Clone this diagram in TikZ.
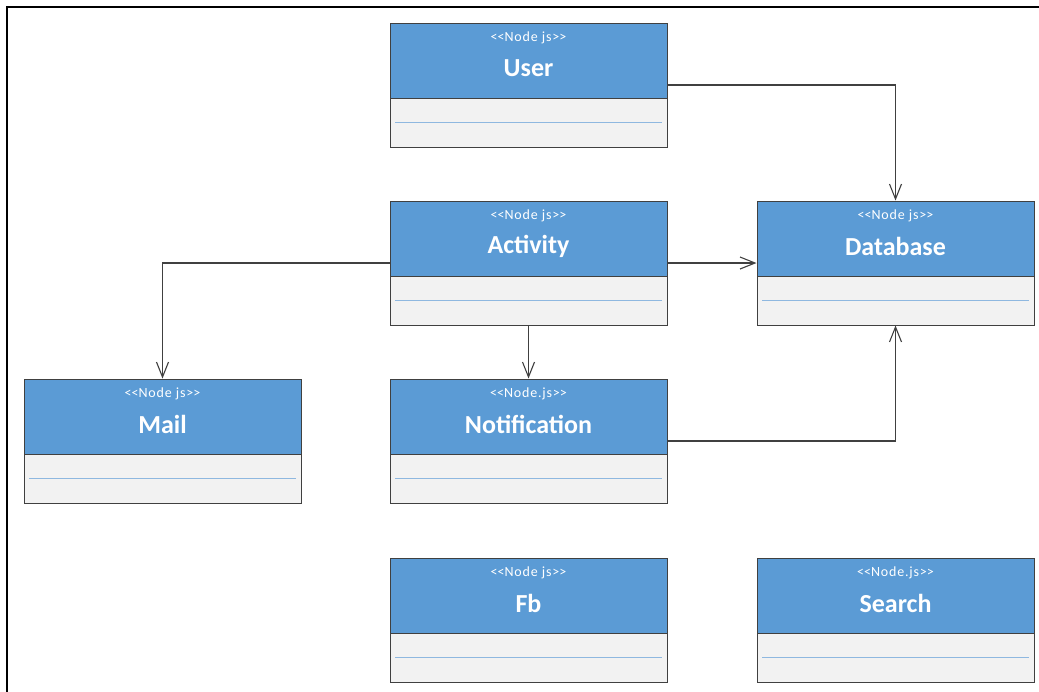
\documentclass[tikz,border=0pt]{standalone}
\usepackage{fontspec}
\setmainfont{Carlito}
\newfontfamily\stereofont{Carlito}[LetterSpace=6]
\usetikzlibrary{arrows.meta}
\definecolor{headblue}{HTML}{5B9BD5}
\definecolor{bodygray}{HTML}{F2F2F2}
\definecolor{edgegray}{HTML}{404040}
\definecolor{dotblue}{HTML}{8FB8E0}
\tikzset{
  classbox/.style={draw=edgegray, line width=1pt, minimum width=277pt, minimum height=124pt, inner sep=0pt},
  headpart/.style={fill=headblue, draw=edgegray, line width=1pt},
  bodypart/.style={fill=bodygray, draw=edgegray, line width=1pt},
  sepline/.style={draw=dotblue, line width=1pt, dash pattern=on 1.5pt off 0.5pt},
  stereo/.style={text=white, font=\stereofont\fontsize{14}{16}\selectfont, inner sep=0pt},
  ctitle/.style={text=white, font=\bfseries\fontsize{26}{30}\selectfont, inner sep=0pt},
  conn/.style={draw=edgegray, line width=1.1pt, -{Straight Barb[length=15pt,width=12pt,line width=1.1pt]}},
}
\newcommand\ltlt{<\kern0pt<\kern0pt}
\newcommand\gtgt{>\kern0pt>}
\newcommand\umlclass[5]{%
  \begin{scope}[shift={(#2,#3)}]
    \path[bodypart] (0,75) rectangle (277,124);
    \path[headpart] (0,0) rectangle (277,75);
    \path[sepline] (5,99) -- (272,99);
    \node[stereo] (#1st) at (138.5,15) {\ltlt#4\gtgt};
    \node[ctitle] (#1ti) at (138.5,45.5) {#5};
  \end{scope}
  \node[classbox] (#1) at ({#2+138.5},{#3+62}) {};
}
\begin{document}
\begin{tikzpicture}[x=1pt,y=-1pt]
  \useasboundingbox (0,0) rectangle (1039,691);
  \fill[white] (0,0) rectangle (1039,691);
  \draw[black, line width=2pt] (6.5,692) -- (6.5,6.5) -- (1040,6.5);
  \umlclass{user}{390}{23}{Node js}{User}
  \umlclass{act}{390}{201}{Node js}{Activity}
  \umlclass{db}{757}{201}{Node js}{Database}
  \umlclass{mail}{24}{379}{Node js}{Mail}
  \umlclass{notif}{390}{379}{Node.js}{Notification}
  \umlclass{fb}{390}{558}{Node js}{Fb}
  \umlclass{search}{757}{558}{Node.js}{Search}
  \draw[conn] (user.east) -| (db.north);
  \draw[conn] (act.west) -| (mail.north);
  \draw[conn] (act.east) -- (db.west);
  \draw[conn] (act.south) -- (notif.north);
  \draw[conn] (notif.east) -| (db.south);
\end{tikzpicture}
\end{document}
